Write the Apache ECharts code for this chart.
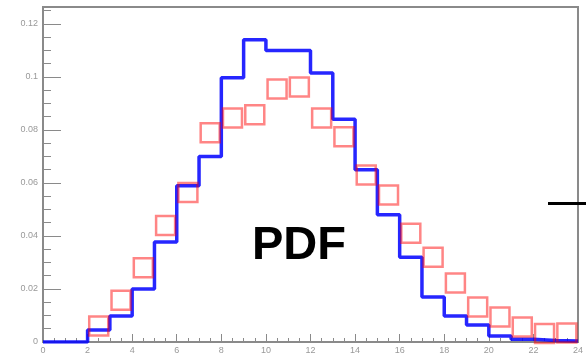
<!DOCTYPE html>
<html>
<head>
<meta charset="utf-8">
<script src="https://cdn.jsdelivr.net/npm/echarts@6/dist/echarts.min.js"></script>
<style>
  html, body { margin: 0; padding: 0; background: #fff; }
  #chart { width: 586px; height: 359px; }
</style>
</head>
<body>
<div id="chart"></div>
<script>
// bin edges run 0..24, one unit per bin
const binEdges = [0, 1, 2, 3, 4, 5, 6, 7, 8, 9, 10, 11, 12, 13, 14, 15, 16, 17, 18, 19, 20, 21, 22, 23, 24]
// blue step histogram, one value per bin
const blueValues = [0, 0, 0.0045, 0.0098, 0.020, 0.0377, 0.059, 0.070, 0.0997, 0.114, 0.110, 0.110,
  0.1015, 0.084, 0.065, 0.048, 0.032, 0.017, 0.0098, 0.0064, 0.0023, 0.001, 0.0006, 0.0004]
// red open squares, one per bin (null = no marker)
const redValues = [null, null, 0.006, 0.0158, 0.028, 0.044, 0.0564, 0.079, 0.0845, 0.0857, 0.0955, 0.0962,
  0.0845, 0.0774, 0.063, 0.0555, 0.041, 0.032, 0.0223, 0.0132, 0.0094, 0.0057, 0.0032, 0.0034]
const xTicks = [0, 2, 4, 6, 8, 10, 12, 14, 16, 18, 20, 22, 24]
const yTicks = [0, 0.02, 0.04, 0.06, 0.08, 0.1, 0.12]

const chart = echarts.init(document.getElementById('chart'))

// step 'end': each value holds from its left edge to the next edge
const blueData = blueValues.map((v, i) => [binEdges[i], v])
blueData.push([binEdges[binEdges.length - 1], blueValues[blueValues.length - 1]])

const redData = redValues
  .map((v, i) => [(binEdges[i] + binEdges[i + 1]) / 2, v])
  .filter(d => d[1] !== null)

const axisGray = '#8a8a8a'

const option = {
  animation: false,
  grid: {
    left: 43,
    right: 4,
    top: 7,
    bottom: 17,
    show: true,
    borderColor: axisGray,
    borderWidth: 2,
    backgroundColor: '#fff'
  },
  xAxis: {
    type: 'value',
    min: xTicks[0],
    max: xTicks[xTicks.length - 1],
    interval: 2,
    axisLine: { show: true, lineStyle: { color: axisGray, width: 2 } },
    axisTick: { show: true, inside: true, length: 8, lineStyle: { color: axisGray, width: 1 } },
    minorTick: { show: true, splitNumber: 4, length: 4, lineStyle: { color: axisGray } },
    splitLine: { show: false },
    axisLabel: {
      color: '#999',
      fontSize: 9,
      fontFamily: 'Liberation Sans',
      margin: 4,
      formatter: v => (xTicks.includes(v) ? String(v) : '')
    }
  },
  yAxis: {
    type: 'value',
    min: yTicks[0],
    max: 0.1264,
    interval: 0.02,
    axisLine: { show: true, lineStyle: { color: axisGray, width: 2 } },
    axisTick: { show: true, inside: true, length: 18, lineStyle: { color: axisGray, width: 1 } },
    minorTick: { show: true, splitNumber: 4, length: 8, lineStyle: { color: axisGray } },
    splitLine: { show: false },
    axisLabel: {
      color: '#999',
      fontSize: 9,
      fontFamily: 'Liberation Sans',
      margin: 5,
      showMaxLabel: false,
      formatter: v => {
        const t = yTicks.find(y => Math.abs(y - v) < 1e-9)
        return t === undefined ? '' : String(t)
      }
    }
  },
  series: [
    {
      name: 'blue',
      type: 'line',
      step: 'end',
      data: blueData,
      symbol: 'none',
      lineStyle: { color: '#0000ff', width: 3.5, opacity: 0.85 },
      z: 3
    },
    {
      name: 'red',
      type: 'scatter',
      data: redData,
      symbol: 'rect',
      symbolSize: 19,
      itemStyle: {
        color: 'rgba(255,255,255,0)',
        borderColor: 'rgba(255,0,0,0.6)',
        borderWidth: 2.5
      },
      z: 4
    }
  ],
  graphic: [
    {
      type: 'text',
      left: 252,
      top: 223,
      style: {
        text: 'PDF',
        font: 'bold 47px "Liberation Sans", Arial, sans-serif',
        fill: '#000'
      },
      z: 10
    },
    {
      type: 'rect',
      shape: { x: 548, y: 202, width: 38, height: 3 },
      style: { fill: '#000' },
      z: 10
    }
  ]
}

chart.setOption(option)
</script>
</body>
</html>
